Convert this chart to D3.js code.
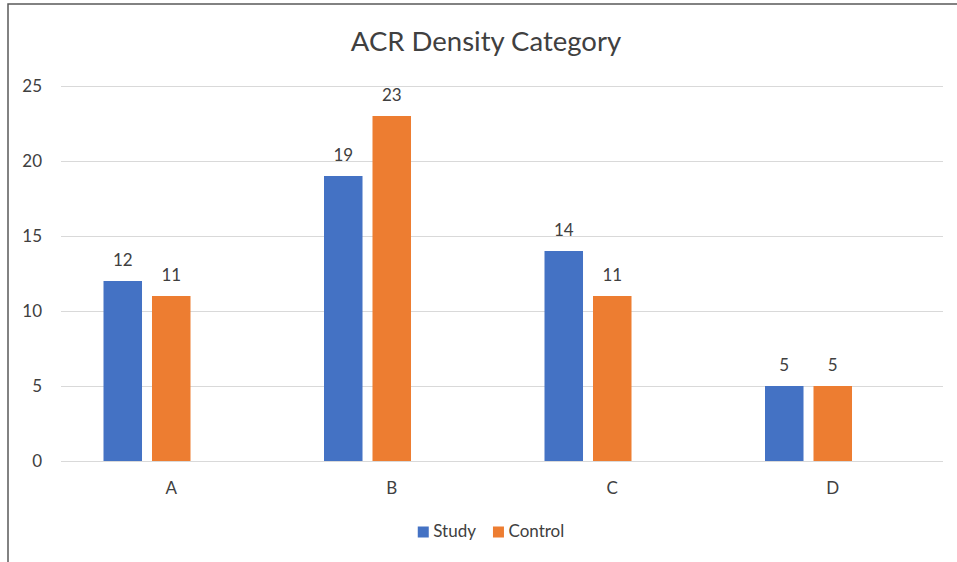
<!DOCTYPE html>
<html>
<head>
<meta charset="utf-8">
<script src="https://cdn.jsdelivr.net/npm/d3@7/dist/d3.min.js"></script>
<style>
  html, body { margin: 0; padding: 0; background: #fff; }
  svg { display: block; }
  text { font-family: "Lato", "Open Sans", sans-serif; fill: #404040; }
</style>
</head>
<body>
<svg id="chart" width="957" height="562"></svg>
<script>
// Chart data
const categories = ["A", "B", "C", "D"];
const seriesNames = ["Study", "Control"];
const studyValues = [12, 19, 14, 5];
const controlValues = [11, 23, 11, 5];
const yTicks = [0, 5, 10, 15, 20, 25];
const chartTitle = "ACR Density Category";

const colors = { Study: "#4472C4", Control: "#ED7D31" };
const valuesBySeries = { Study: studyValues, Control: controlValues };
const labelSize = "17px";

const svg = d3.select("#chart");

// Outer frame of the chart object (runs off the right and bottom edges)
svg.append("rect")
  .attr("x", 8).attr("y", 4)
  .attr("width", 980).attr("height", 600)
  .attr("fill", "none")
  .attr("stroke", "#595959")
  .attr("stroke-width", 1.5);

const plot = { left: 61, right: 943, top: 86, bottom: 461 };

const y = d3.scaleLinear().domain([0, 25]).range([plot.bottom, plot.top]);
const x0 = d3.scaleBand().domain(categories).range([plot.left, plot.right]);

// Clusters reserve three bar slots; only the first two carry series
const clusterWidth = 135.5;
const x1 = d3.scaleBand()
  .domain([...seriesNames, "slot3"])
  .range([0, clusterWidth])
  .paddingInner(0.206);
const clusterStart = c => x0(c) + (x0.bandwidth() - clusterWidth) / 2;

// Y axis with gridlines
const yAxis = svg.append("g")
  .attr("transform", `translate(${plot.left},0)`)
  .call(d3.axisLeft(y).tickValues(yTicks).tickSize(-(plot.right - plot.left)).tickPadding(19));
yAxis.select(".domain").remove();
yAxis.selectAll(".tick line").attr("stroke", "#D9D9D9").attr("stroke-width", 1);
yAxis.selectAll(".tick text")
  .style("font-size", labelSize)
  .style("font-family", "Lato, 'Open Sans', sans-serif")
  .attr("fill", "#404040");

// X axis category labels
const xAxis = svg.append("g")
  .attr("transform", `translate(0,${plot.bottom})`)
  .call(d3.axisBottom(x0).tickSize(0).tickPadding(21));
xAxis.select(".domain").remove();
xAxis.selectAll(".tick text")
  .style("font-size", labelSize)
  .style("font-family", "Lato, 'Open Sans', sans-serif")
  .attr("fill", "#404040");

// Bars and value labels
const barData = [];
categories.forEach((c, i) => {
  seriesNames.forEach(s => barData.push({ category: c, series: s, value: valuesBySeries[s][i] }));
});

svg.append("g").selectAll("rect")
  .data(barData)
  .join("rect")
  .attr("x", d => clusterStart(d.category) + x1(d.series))
  .attr("y", d => y(d.value))
  .attr("width", x1.bandwidth())
  .attr("height", d => y(0) - y(d.value))
  .attr("fill", d => colors[d.series]);

svg.append("g").selectAll("text")
  .data(barData)
  .join("text")
  .attr("x", d => clusterStart(d.category) + x1(d.series) + x1.bandwidth() / 2)
  .attr("y", d => y(d.value) - 15)
  .attr("text-anchor", "middle")
  .style("font-size", labelSize)
  .text(d => d.value);

// Title
svg.append("text")
  .attr("x", 486).attr("y", 51)
  .attr("text-anchor", "middle")
  .style("font-size", "27.5px")
  .text(chartTitle);

// Legend, centred below the axis
const legend = svg.append("g");
let cursor = 0;
seriesNames.forEach((s, i) => {
  const item = legend.append("g").attr("transform", `translate(${cursor},0)`);
  item.append("rect").attr("x", 0).attr("y", -10.5).attr("width", 11).attr("height", 11).attr("fill", colors[s]);
  const t = item.append("text").attr("x", 15.5).attr("y", 0).style("font-size", labelSize).text(s);
  cursor += 15.5 + t.node().getComputedTextLength() + 17;
});
const legendWidth = cursor - 17;
legend.attr("transform", `translate(${491 - legendWidth / 2},537)`);
</script>
</body>
</html>
